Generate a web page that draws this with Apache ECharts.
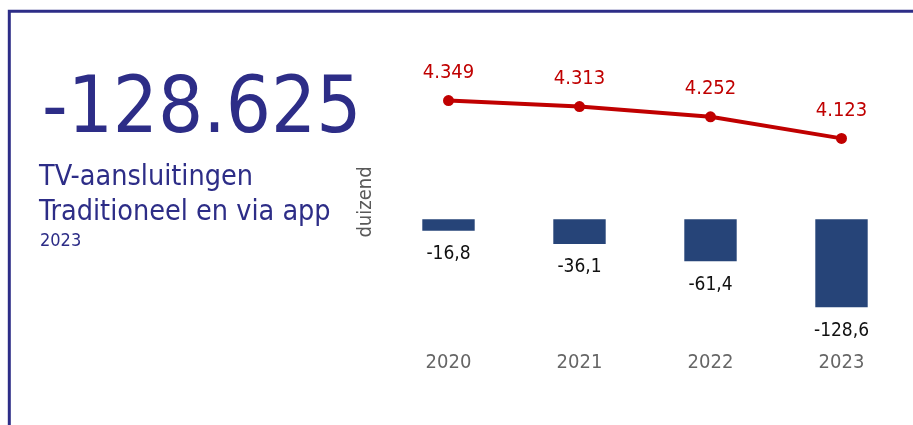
<!DOCTYPE html>
<html>
<head>
<meta charset="utf-8">
<script src="https://cdn.jsdelivr.net/npm/echarts@6/dist/echarts.min.js"></script>
<style>
  html, body { margin: 0; padding: 0; background: #fff; }
  #tvChart { width: 913px; height: 425px; }
</style>
</head>
<body>
<div id="tvChart"></div>
<script>
const years = ['2020', '2021', '2022', '2023']
// aantal aansluitingen (duizend)
const connections = [4349, 4313, 4252, 4123]
// verandering t.o.v. vorig jaar (duizend)
const change = [-16.8, -36.1, -61.4, -128.6]
const headline = '-128.625'
const subtitleLines = ['TV-aansluitingen', 'Traditioneel en via app']
const subtitleYear = '2023'
const unitLabel = 'duizend'

const FONT = '"DejaVu Sans Condensed", "DejaVu Sans", sans-serif'
const NAVY = '#2d2d87'

const chart = echarts.init(document.getElementById('tvChart'))

const fmtThousands = (v) => String(v).replace(/\B(?=(\d{3})+(?!\d))/g, '.')
const fmtDecimal = (v) => v.toFixed(1).replace('.', ',')

const option = {
  backgroundColor: '#fff',
  animation: false,
  grid: [
    { left: 383, width: 524, top: 92, height: 67 },
    { left: 383, width: 524, top: 219.3, height: 109.4 },
  ],
  xAxis: [
    {
      gridIndex: 0,
      type: 'category',
      data: years,
      show: false,
    },
    {
      gridIndex: 1,
      type: 'category',
      data: years,
      axisLine: { show: false, onZero: false },
      axisTick: { show: false },
      axisLabel: {
        color: '#666',
        fontSize: 20,
        fontFamily: FONT,
        margin: 24,
      },
    },
  ],
  yAxis: [
    { gridIndex: 0, type: 'value', min: 4000, max: 4400, show: false },
    { gridIndex: 1, type: 'value', min: -160, max: 0, show: false },
  ],
  series: [
    {
      name: 'aansluitingen',
      type: 'line',
      xAxisIndex: 0,
      yAxisIndex: 0,
      data: connections,
      symbol: 'circle',
      symbolSize: 11,
      lineStyle: { color: '#c00000', width: 4 },
      itemStyle: { color: '#c00000' },
      label: {
        show: true,
        position: 'top',
        distance: 12,
        color: '#c00000',
        fontSize: 20,
        fontFamily: FONT,
        formatter: (p) => fmtThousands(p.value),
      },
    },
    {
      name: 'verandering',
      type: 'bar',
      xAxisIndex: 1,
      yAxisIndex: 1,
      data: change,
      barWidth: '40%',
      itemStyle: { color: '#264478' },
      label: {
        show: true,
        position: 'bottom',
        distance: 14,
        color: '#111',
        fontSize: 19,
        fontFamily: FONT,
        formatter: (p) => fmtDecimal(p.value),
      },
    },
  ],
  graphic: [
    {
      type: 'rect',
      silent: true,
      shape: { x: 9.3, y: 11.3, width: 1000, height: 1000 },
      style: { fill: 'none', stroke: NAVY, lineWidth: 3 },
    },
    {
      type: 'text',
      left: 42,
      top: 72,
      style: { text: headline, font: '79px ' + FONT, fill: NAVY },
    },
    {
      type: 'text',
      left: 39,
      top: 163,
      style: { text: subtitleLines[0], font: '28.5px ' + FONT, fill: NAVY },
    },
    {
      type: 'text',
      left: 39,
      top: 198,
      style: { text: subtitleLines[1], font: '28.5px ' + FONT, fill: NAVY },
    },
    {
      type: 'text',
      left: 40,
      top: 232,
      style: { text: subtitleYear, font: '18px ' + FONT, fill: NAVY },
    },
    {
      type: 'text',
      x: 366,
      y: 202,
      rotation: Math.PI / 2,
      style: {
        text: unitLabel,
        font: '20px ' + FONT,
        fill: '#595959',
        textAlign: 'center',
        textVerticalAlign: 'middle',
      },
    },
  ],
}

option && chart.setOption(option)
</script>
</body>
</html>
